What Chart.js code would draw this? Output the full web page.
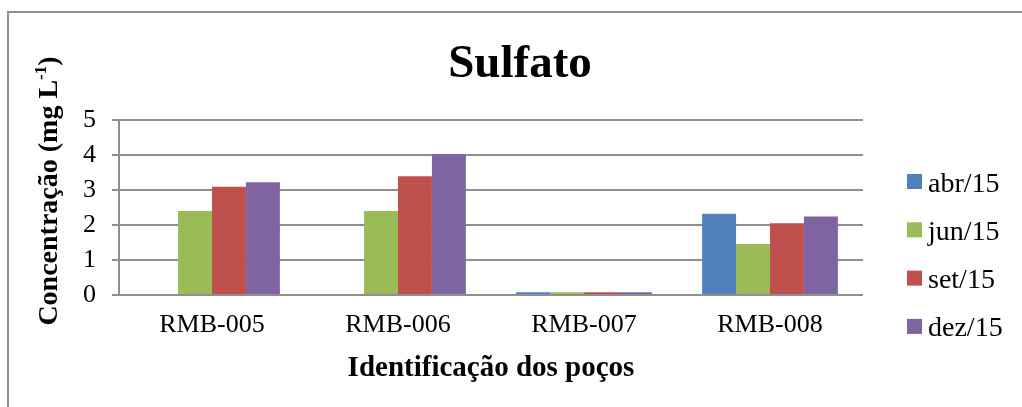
<!DOCTYPE html>
<html>
<head>
<meta charset="utf-8">
<title>Sulfato</title>
<script src="https://cdn.jsdelivr.net/npm/chart.js@4"></script>
<style>
    html, body { margin: 0; padding: 0; background: #ffffff; }
    #wrap { width: 1022px; height: 407px; position: relative; }
</style>
</head>
<body>
<div id="wrap"><canvas id="sulfatoChart" width="1022" height="407"></canvas></div>
<script>
// dados
const categorias = ['RMB-005', 'RMB-006', 'RMB-007', 'RMB-008'];
const campanhas = ['abr/15', 'jun/15', 'set/15', 'dez/15'];
const abr15 = [null, null, 0.08, 2.32];
const jun15 = [2.4, 2.4, 0.08, 1.46];
const set15 = [3.09, 3.39, 0.08, 2.05];
const dez15 = [3.22, 4.03, 0.08, 2.24];
const yMin = 0;
const yMax = 5;
const yPasso = 1;

const cores = ['#4F81BD', '#9BBB59', '#C0504D', '#8064A2'];
const serif = '"Liberation Serif", "Times New Roman", serif';
const corGrade = '#8f8f8f';

const tituloGrafico = 'Sulfato';
const tituloX = 'Identificação dos poços';

const series = [abr15, jun15, set15, dez15];

// moldura, títulos e legenda desenhados à mão
const textosPlugin = {
    id: 'textos',
    beforeDraw(chart) {
        const ctx = chart.ctx;
        ctx.save();
        ctx.strokeStyle = corGrade;
        ctx.lineWidth = 2;
        ctx.beginPath();
        ctx.moveTo(8, 407);
        ctx.lineTo(8, 12);
        ctx.lineTo(1022, 12);
        ctx.stroke();
        ctx.restore();
    },
    afterDraw(chart) {
        const ctx = chart.ctx;
        const area = chart.chartArea;
        ctx.save();
        ctx.fillStyle = '#000000';

        // título
        ctx.font = 'bold 47px ' + serif;
        ctx.textAlign = 'center';
        ctx.textBaseline = 'alphabetic';
        ctx.fillText(tituloGrafico, 520, 77);

        // eixo x
        ctx.font = 'bold 29px ' + serif;
        ctx.fillText(tituloX, (area.left + area.right) / 2, 376);

        // eixo y com sobrescrito
        const parte1 = 'Concentração (mg L';
        const sup = '-1';
        const parte2 = ')';
        const fonteY = 'bold 28px ' + serif;
        const fonteSup = 'bold 17px ' + serif;
        ctx.font = fonteY;
        const w1 = ctx.measureText(parte1).width;
        const w3 = ctx.measureText(parte2).width;
        ctx.font = fonteSup;
        const w2 = ctx.measureText(sup).width;
        const total = w1 + w2 + w3;
        ctx.translate(57, 191);
        ctx.rotate(-Math.PI / 2);
        ctx.textAlign = 'left';
        let x = -total / 2;
        ctx.font = fonteY;
        ctx.fillText(parte1, x, 0);
        x += w1;
        ctx.font = fonteSup;
        ctx.fillText(sup, x, -11);
        x += w2;
        ctx.font = fonteY;
        ctx.fillText(parte2, x, 0);
        ctx.restore();

        // legenda
        ctx.save();
        ctx.font = '28px ' + serif;
        ctx.textAlign = 'left';
        ctx.textBaseline = 'alphabetic';
        chart.data.datasets.forEach((ds, i) => {
            const cy = 181.5 + i * 48.3;
            ctx.fillStyle = ds.backgroundColor;
            ctx.fillRect(907, cy - 7.5, 15, 15);
            ctx.fillStyle = '#000000';
            ctx.fillText(ds.label, 928, cy + 10);
        });
        ctx.restore();
    }
};

const ctx = document.getElementById('sulfatoChart').getContext('2d');

new Chart(ctx, {
    type: 'bar',
    data: {
        labels: categorias,
        datasets: campanhas.map((nome, i) => ({
            label: nome,
            data: series[i],
            backgroundColor: cores[i],
            borderWidth: 0,
            categoryPercentage: 0.73,
            barPercentage: 1.0
        }))
    },
    options: {
        responsive: false,
        animation: false,
        layout: {
            padding: { top: 120, right: 159, bottom: 0, left: 0 }
        },
        plugins: {
            legend: { display: false },
            title: { display: false },
            tooltip: { enabled: false }
        },
        scales: {
            x: {
                grid: { display: false, drawTicks: false },
                border: { display: false },
                ticks: {
                    color: '#000000',
                    font: { family: serif, size: 26 },
                    padding: 15,
                    maxRotation: 0
                },
                afterFit: (scale) => { scale.height = 112; }
            },
            y: {
                min: yMin,
                max: yMax,
                grid: {
                    color: corGrade,
                    lineWidth: 2,
                    drawTicks: true,
                    tickLength: 7
                },
                border: { display: true, color: corGrade, width: 2 },
                ticks: {
                    stepSize: yPasso,
                    color: '#000000',
                    font: { family: serif, size: 26 },
                    padding: 16
                },
                afterFit: (scale) => { scale.width = 119; }
            }
        }
    },
    plugins: [textosPlugin]
});
</script>
</body>
</html>
